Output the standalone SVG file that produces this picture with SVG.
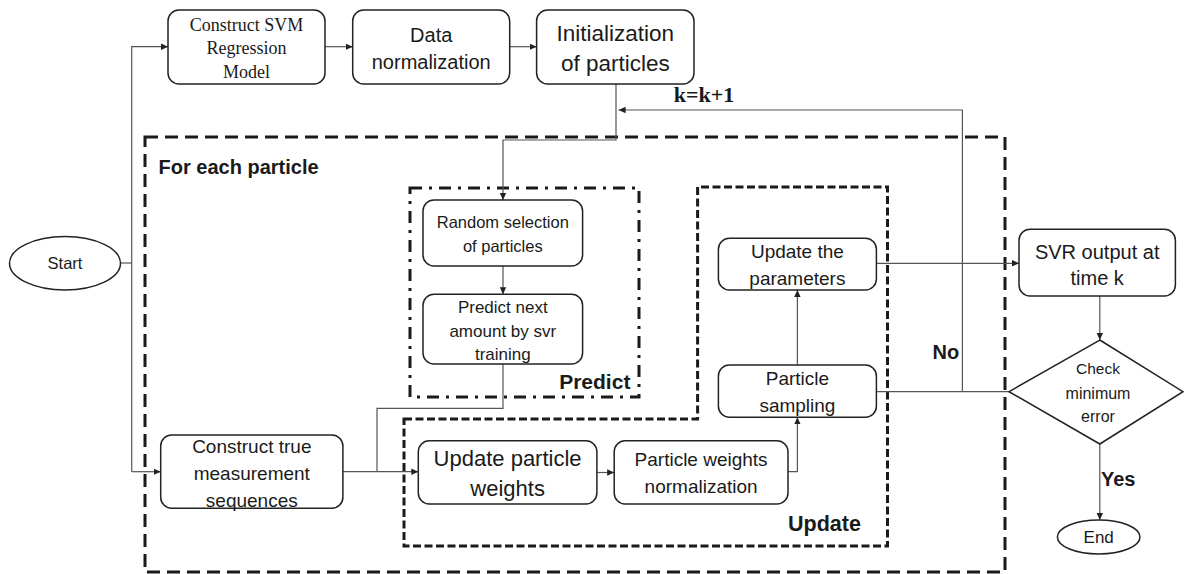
<svg xmlns="http://www.w3.org/2000/svg" width="1184" height="574" viewBox="0 0 1184 574">
<style>
.box{fill:#fff;stroke:#222;stroke-width:1.5}
.t{font-family:"Liberation Sans",Arial,sans-serif;fill:#1a1a1a;text-anchor:middle}
.ser{font-family:"Liberation Serif","Times New Roman",serif;fill:#1a1a1a;text-anchor:middle}
.b{font-family:"Liberation Sans",Arial,sans-serif;font-weight:bold;fill:#1a1a1a}
.ln{fill:none;stroke:#555;stroke-width:1.2}
.grp{fill:none;stroke:#1a1a1a;stroke-width:3}
</style>
<defs>
<marker id="ah" markerWidth="8" markerHeight="8" refX="7" refY="4" orient="auto" markerUnits="userSpaceOnUse">
<path d="M0,0.8 L7,4 L0,7.2 Z" fill="#222"/>
</marker>
</defs>
<rect width="1184" height="574" fill="#fff"/>

<g id="groups">
<rect id="outer" class="grp" x="145" y="137" width="860" height="435" stroke-dasharray="13 7"/>
<rect id="predict-group" class="grp" x="410" y="188" width="229" height="209" stroke-dasharray="12 7 3 7"/>
<path id="update-group" class="grp" d="M404,419 L697.6,419 L697.6,187 L887.5,187 L887.5,546 L404,546 Z" stroke-dasharray="8 3.5"/>
<text class="b" x="158.5" y="174" font-size="20">For each particle</text>
<text class="b" x="630.4" y="389" font-size="21" text-anchor="end">Predict</text>
<text class="b" x="788" y="531" font-size="21.5">Update</text>
</g>

<g id="connectors">
<path class="ln" d="M120.5,263 L131.7,263"/>
<path class="ln" d="M131.7,471.7 L131.7,46.7 L168,46.7" marker-end="url(#ah)"/>
<path class="ln" d="M131.7,471.7 L160.7,471.7" marker-end="url(#ah)"/>
<path class="ln" d="M325,46.7 L352.7,46.7" marker-end="url(#ah)"/>
<path class="ln" d="M509.8,46.7 L536.6,46.7" marker-end="url(#ah)"/>
<path class="ln" d="M616,84 L616,140 L503,140 L503,200" marker-end="url(#ah)"/>
<path class="ln" d="M503,266 L503,294.3" marker-end="url(#ah)"/>
<path class="ln" d="M503,364 L503,408.3 L377,408.3 L377,471.7"/>
<path class="ln" d="M342.9,471.7 L418.3,471.7" marker-end="url(#ah)"/>
<path class="ln" d="M596.9,472.5 L614.2,472.5" marker-end="url(#ah)"/>
<path class="ln" d="M788,471.7 L797.4,471.7 L797.4,417.3" marker-end="url(#ah)"/>
<path class="ln" d="M797.4,365 L797.4,290" marker-end="url(#ah)"/>
<path class="ln" d="M876.4,263.3 L1019,263.3" marker-end="url(#ah)"/>
<path class="ln" d="M1099.8,296 L1099.8,340" marker-end="url(#ah)"/>
<path class="ln" d="M876.4,391.7 L1009,391.7"/>
<path class="ln" d="M962.4,391.7 L962.4,110 L618.6,110" marker-end="url(#ah)"/>
<path class="ln" d="M1099.8,444 L1099.8,520" marker-end="url(#ah)"/>
<text class="ser" x="704" y="102" font-size="22" font-weight="bold" text-anchor="start">k=k+1</text>
<text class="b" x="932.6" y="359" font-size="20">No</text>
<text class="b" x="1101" y="486" font-size="20">Yes</text>
</g>

<g id="start">
<ellipse cx="65" cy="263.3" rx="55.5" ry="26.7" fill="#fff" stroke="#222" stroke-width="1.5"/>
<text class="t" x="65" y="269" font-size="16.5">Start</text>
</g>

<g id="construct-svm">
<rect class="box" x="168" y="10" width="157" height="74" rx="11"/>
<text class="ser" x="246.5" y="31" font-size="18">Construct SVM</text>
<text class="ser" x="246.5" y="54" font-size="18">Regression</text>
<text class="ser" x="246.5" y="78" font-size="18">Model</text>
</g>

<g id="data-normalization">
<rect class="box" x="352.7" y="10" width="157" height="74" rx="11"/>
<text class="t" x="431.2" y="42" font-size="20">Data</text>
<text class="t" x="431.2" y="69" font-size="20">normalization</text>
</g>

<g id="init-particles">
<rect class="box" x="536.6" y="10" width="157.4" height="74" rx="11"/>
<text class="t" x="615.3" y="41" font-size="22.5">Initialization</text>
<text class="t" x="615.3" y="71" font-size="22.5">of particles</text>
</g>

<g id="random-selection">
<rect class="box" x="423" y="200" width="159.6" height="66" rx="11"/>
<text class="t" x="502.8" y="227.7" font-size="16.5">Random selection</text>
<text class="t" x="502.8" y="251.7" font-size="16.5">of particles</text>
</g>

<g id="predict-next">
<rect class="box" x="423" y="294.3" width="159.6" height="69.7" rx="11"/>
<text class="t" x="502.8" y="312.7" font-size="17">Predict next</text>
<text class="t" x="502.8" y="336.7" font-size="17">amount by svr</text>
<text class="t" x="502.8" y="360" font-size="17">training</text>
</g>

<g id="construct-true">
<rect class="box" x="160.7" y="435" width="182.2" height="73.3" rx="11"/>
<text class="t" x="251.8" y="453" font-size="19">Construct true</text>
<text class="t" x="251.8" y="480" font-size="19">measurement</text>
<text class="t" x="251.8" y="506.5" font-size="19">sequences</text>
</g>

<g id="update-weights">
<rect class="box" x="418.3" y="440.7" width="178.6" height="63.3" rx="11"/>
<text class="t" x="507.6" y="466" font-size="22">Update particle</text>
<text class="t" x="507.6" y="496" font-size="22">weights</text>
</g>

<g id="weights-normalization">
<rect class="box" x="614.2" y="440.7" width="173.8" height="63.3" rx="11"/>
<text class="t" x="701.1" y="465.7" font-size="19">Particle weights</text>
<text class="t" x="701.1" y="492.7" font-size="19">normalization</text>
</g>

<g id="particle-sampling">
<rect class="box" x="718.4" y="365" width="158" height="52.3" rx="11"/>
<text class="t" x="797.4" y="385" font-size="19">Particle</text>
<text class="t" x="797.4" y="411.7" font-size="19">sampling</text>
</g>

<g id="update-parameters">
<rect class="box" x="718.4" y="238.3" width="158" height="51.7" rx="11"/>
<text class="t" x="797.4" y="258.3" font-size="19">Update the</text>
<text class="t" x="797.4" y="285" font-size="19">parameters</text>
</g>

<g id="svr-output">
<rect class="box" x="1019" y="229.3" width="156.4" height="66.7" rx="11"/>
<text class="t" x="1097.2" y="258.7" font-size="20">SVR output at</text>
<text class="t" x="1097.2" y="285.3" font-size="20">time k</text>
</g>

<g id="check-error">
<polygon points="1099.8,340 1183,391.7 1099.8,444 1009,391.7" fill="#fff" stroke="#222" stroke-width="1.5"/>
<text class="t" x="1098" y="373.8" font-size="15.5">Check</text>
<text class="t" x="1098" y="399" font-size="16">minimum</text>
<text class="t" x="1098" y="421.6" font-size="16">error</text>
</g>

<g id="end">
<ellipse cx="1098.7" cy="537" rx="41.3" ry="17" fill="#fff" stroke="#222" stroke-width="1.5"/>
<text class="t" x="1098.7" y="543" font-size="17">End</text>
</g>
</svg>
